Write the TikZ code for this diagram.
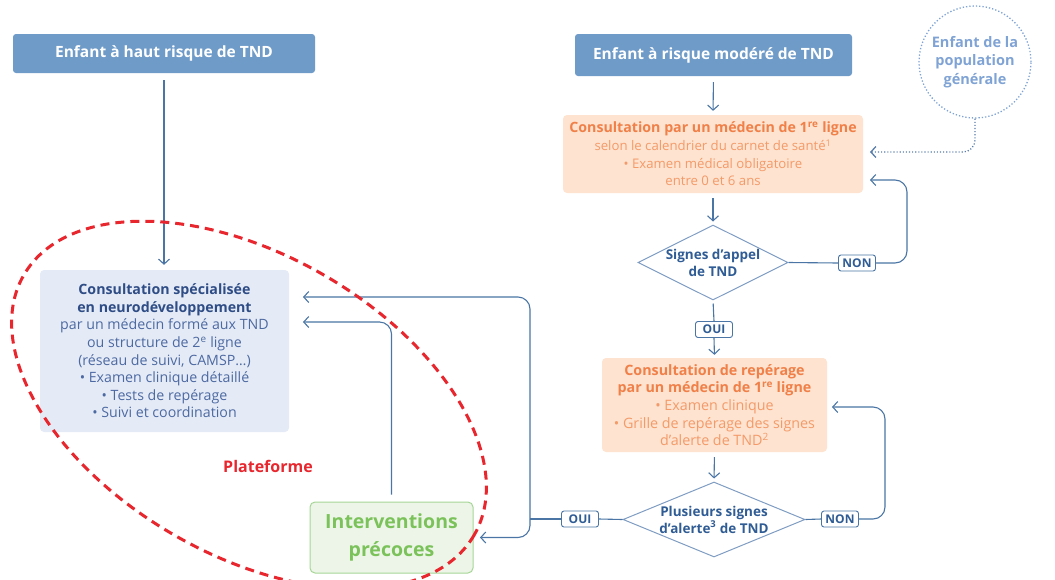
\documentclass[tikz,border=0pt]{standalone}
\usepackage{fontspec}
\setmainfont{Open Sans}
\usetikzlibrary{shapes.geometric,arrows.meta}

\definecolor{hdrblue}{HTML}{6F9BC9}
\definecolor{linkblue}{HTML}{4A75A5}
\definecolor{diamblue}{HTML}{7F9DC2}
\definecolor{txtblue}{HTML}{2F5C94}
\definecolor{orfill}{HTML}{FDE3D0}
\definecolor{ortitle}{HTML}{F08048}
\definecolor{ortext}{HTML}{F49A68}
\definecolor{spfill}{HTML}{E4EBF6}
\definecolor{sptitle}{HTML}{2E4C85}
\definecolor{sptext}{HTML}{4D69A2}
\definecolor{grfill}{HTML}{EDF5E8}
\definecolor{grline}{HTML}{A6D696}
\definecolor{grtext}{HTML}{7BC25A}
\definecolor{plred}{HTML}{E8262E}
\definecolor{popblue}{HTML}{7FA3D4}

\newcommand\orhead[1]{{\bfseries\color{ortitle}#1}}
\newcommand\sphead[1]{{\bfseries\color{sptitle}#1}}

\begin{document}
\begin{tikzpicture}[x=1pt,y=-1pt,
    every node/.style={align=center, inner sep=0pt},
    hdr/.style={fill=hdrblue, rounded corners=3pt, text=white,
      font=\bfseries\fontsize{15.5}{18}\selectfont},
    orbox/.style={fill=orfill, rounded corners=4pt, text=ortext,
      font=\fontsize{13.2}{17.7}\selectfont},
    spbox/.style={fill=spfill, rounded corners=4pt, text=sptext,
      font=\fontsize{14.2}{17.6}\selectfont},
    grbox/.style={fill=grfill, draw=grline, line width=1pt, rounded corners=5pt,
      text=grtext, font=\bfseries\fontsize{19.5}{28}\selectfont},
    test/.style={diamond, draw=diamblue, line width=1pt},
    testtxt/.style={text=txtblue, font=\bfseries\fontsize{13.5}{17}\selectfont},
    tag/.style={draw=linkblue, fill=white, line width=0.9pt, rounded corners=2.5pt,
      text=txtblue, minimum width=37, minimum height=16,
      font=\bfseries\fontsize{12}{13}\selectfont},
    popcircle/.style={circle, draw=popblue, line width=1.3pt, dotted, text=popblue,
      font=\bfseries\fontsize{14.5}{18.5}\selectfont},
    link/.style={draw=linkblue, line width=1.1pt},
    arr/.style={link, -{Straight Barb[length=5pt,width=11pt]}},
  ]
  \path[use as bounding box, clip] (0,0) rectangle (1055,579);

  % entry points
  \node[hdr, minimum width=302, minimum height=39] (haut) at (164,53.5) {Enfant à haut risque de TND};
  \node[hdr, minimum width=277, minimum height=42] (modere) at (713.5,55) {Enfant à risque modéré de TND};
  \node[popcircle, minimum size=112] (popgen) at (975,62) {Enfant de la\\population\\générale};

  % first line
  \node[orbox, minimum width=300, minimum height=78] (consult1) at (713,154)
    {\orhead{\fontsize{14.2}{17.7}\selectfont Consultation par un médecin de 1\textsuperscript{re} ligne}\\
     selon le calendrier du carnet de santé\textsuperscript{1}\\
     \textbullet{} Examen médical obligatoire\\
     entre 0 et 6 ans};
  \node[test, minimum width=150, minimum height=75] (appel) at (713,262.5) {};
  \node[testtxt] (appeltxt) at (appel) {Signes d’appel\\de TND};
  \node[tag] (non1) at (857,263) {NON};
  \node[tag] (oui1) at (714,329.5) {OUI};
  \node[orbox, font=\fontsize{14.3}{17.7}\selectfont, minimum width=225, minimum height=94] (repere) at (714.5,405)
    {\orhead{Consultation de repérage}\\
     \orhead{par un médecin de 1\textsuperscript{re} ligne}\\
     \textbullet{} Examen clinique\\
     \textbullet{} Grille de repérage des signes\\
     d’alerte de TND\textsuperscript{2}};
  \node[test, minimum width=182, minimum height=75] (alerte) at (714,519.5) {};
  \node[testtxt] (alertetxt) at (alerte) {Plusieurs signes\\d’alerte\textsuperscript{3} de TND};
  \node[tag] (non2) at (840,519) {NON};
  \node[tag] (oui2) at (580,519) {OUI};

  % second line
  \node[spbox, minimum width=249, minimum height=162] (specia) at (164.5,351)
    {\sphead{Consultation spécialisée}\\
     \sphead{en neurodéveloppement}\\
     par un médecin formé aux TND\\
     ou structure de 2\textsuperscript{e} ligne\\
     (réseau de suivi, CAMSP…)\\
     \textbullet{} Examen clinique détaillé\\
     \textbullet{} Tests de repérage\\
     \textbullet{} Suivi et coordination};
  \node[grbox, minimum width=163, minimum height=71] (interv) at (391.5,537.5) {Interventions\\précoces};
  \node[text=plred, font=\bfseries\fontsize{16}{18}\selectfont] (plateforme) at (268,466) {Plateforme};

  \coordinate (d1) at (870,152);
  \coordinate (d2) at (870,180);
  \coordinate (f1) at (832,407);
  \coordinate (h1) at (303,297);
  \coordinate (h2) at (303,322);
  \coordinate (jn) at (530,519);
  \coordinate (i1) at (480,537.5);

  % connectors
  \draw[arr, shorten <=7pt, shorten >=5pt] (haut.south) -- (haut.south |- specia.north);
  \draw[arr, shorten <=6pt, shorten >=4pt] (modere.south) -- (consult1.north);
  \draw[arr, shorten <=5pt, shorten >=3pt] (consult1.south) -- (appel.north);
  \draw[link, shorten <=3pt] (appel.south) -- (oui1.north);
  \draw[arr, shorten >=3pt] (oui1.south) -- (repere.north);
  \draw[arr, shorten <=5pt, shorten >=3pt] (repere.south) -- (alerte.north);
  \draw[link] (appel.east) -- (non1.west);
  \draw[arr, rounded corners=12pt] (non1.east) -- (907,263) |- (d2);
  \draw[link] (alerte.east) -- (non2.west);
  \draw[arr, rounded corners=12pt] (non2.east) -- (885,519) |- (f1);
  \draw[link] (alerte.west) -- (oui2.east);
  \draw[link] (oui2.west) -- (jn);
  \draw[arr, rounded corners=12pt] (jn) |- (h1);
  \draw[arr, rounded corners=12pt] (jn) |- (i1);
  \draw[arr, rounded corners=12pt] ([yshift=7pt]interv.north) |- (h2);
  \draw[arr, draw=txtblue!80, dotted, line width=1.3pt, rounded corners=12pt] (popgen.south) |- (d1);

  % plateforme
  \draw[plred, line width=3pt, dash pattern=on 9pt off 6pt, rotate around={-30:(249,405)}]
    (249,405) ellipse [x radius=260, y radius=150];
\end{tikzpicture}
\end{document}
